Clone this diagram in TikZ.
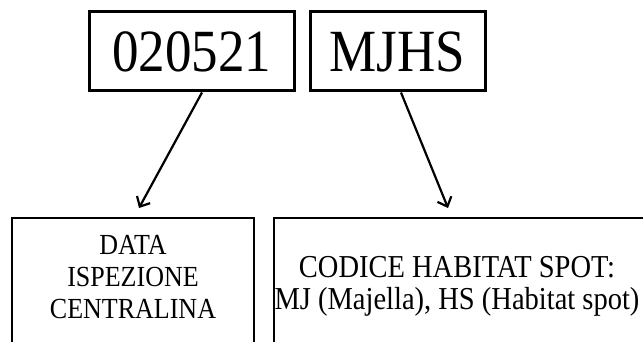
\documentclass[tikz,border=0pt]{standalone}
\usepackage{fontspec}
\setmainfont{Liberation Serif}
\usetikzlibrary{arrows.meta}
\newcommand{\tallbox}[2]{\scalebox{1}[1.12]{\fontsize{#1}{28.6}\selectfont\begin{tabular}{@{}c@{}}#2\end{tabular}}}
\begin{document}
\begin{tikzpicture}[x=1pt,y=-1pt,
  topbox/.style={draw,line width=3pt,minimum width=#1,minimum height=79pt,inner sep=0pt},
  lowbox/.style={draw,line width=2pt},
  txt/.style={inner sep=0pt},
  conn/.style={line width=2.2pt,-{Straight Barb[length=8pt,width=15pt,line width=2.2pt]}}]
\useasboundingbox (0,0) rectangle (643,342);
\clip (0,0) rectangle (643,342);
\node[topbox=205pt] (b1) at (191.5,51.5) {};
\node[topbox=175pt] (b2) at (397.5,51.5) {};
\node at (b1.center) {\scalebox{1}[1.13]{\fontsize{53}{60}\selectfont 020521}};
\node at (b2.center) {\scalebox{1}[1.13]{\fontsize{53}{60}\selectfont MJHS}};
\draw[lowbox] (12,400) |- (254,218) -- (254,400);
\draw[lowbox] (274,400) |- (700,218);
\node[txt] (t1) at (133,280) {\tallbox{26}{DATA\\ISPEZIONE\\CENTRALINA}};
\node[txt] (t2) at (457,287) {\tallbox{28.5}{CODICE HABITAT SPOT:\\MJ (Majella), HS (Habitat spot)}};
\coordinate (e1) at (139,208);
\coordinate (e2) at (448,208);
\draw[conn] ([xshift=10.5pt]b1.south) -- (e1);
\draw[conn] ([xshift=3.5pt]b2.south) -- (e2);
\end{tikzpicture}
\end{document}
